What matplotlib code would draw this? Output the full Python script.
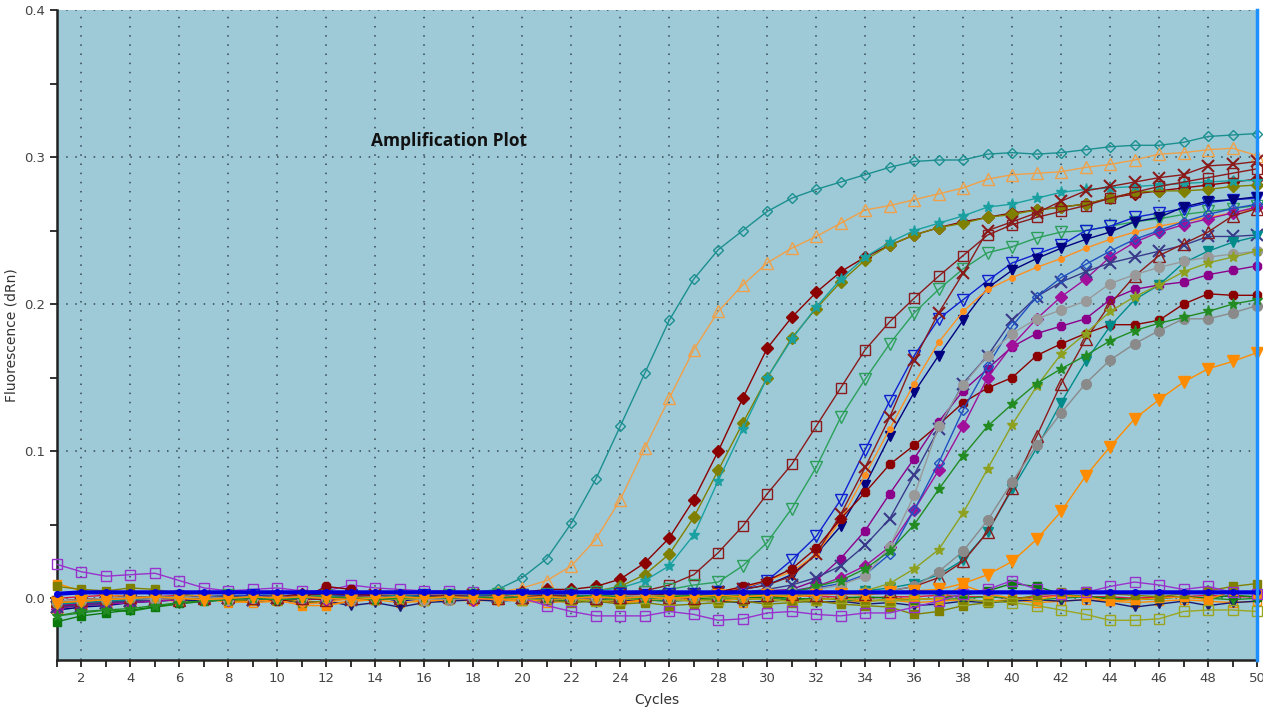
import numpy as np
import matplotlib
matplotlib.use("Agg")
from matplotlib import pyplot as plt
from matplotlib.ticker import MultipleLocator

# cycles 1..50, fluorescence in milli-dRn
cycles = list(range(1, 51))

teal_diamond = [-4,-2,-1,0,1,1,2,1,2,2,1,3,2,2,3,2,3,4,6,14, 27,51,81,117,153,189,217,237,250,263,
                272,278,283,288,293,297,298,298,302,303, 302,303,305,307,308,308,310,314,315,316]
orange_tri = [-6,-3,-2,-1,0,1,0,1,2,1,2,1,2,3,2,3,2,3,4,7, 12,22,40,67,102,136,169,195,213,228,
              238,246,255,264,267,271,275,279,285,288, 289,290,293,295,298,302,303,305,306,301]
maroon_diamond = [-5,-4,-3,-2,-1,0,0,1,2,1,3,2,3,2,1,2,1,2,3,4, 6,6,8,13,24,41,67,100,136,170,
                  191,208,222,232,240,247,252,256,259,262, 264,266,268,272,275,277,279,281,283,285]
olive_diamond = [-3,-2,-1,0,-1,0,1,0,1,2,0,1,2,1,0,1,2,1,2,3, 3,4,5,8,16,30,55,87,119,150,
                 177,197,215,230,240,247,252,255,259,261, 264,266,268,272,276,277,277,278,280,281]
teal_star = [-8,-6,-4,-3,-2,-1,0,0,1,0,1,2,1,0,1,2,1,2,2,3, 3,4,5,7,12,22,43,80,115,150,
             176,198,217,232,242,250,255,260,266,268, 272,276,278,279,280,281,282,283,284,284]
maroon_square = [-2,-1,0,1,0,1,0,1,0,1,2,1,0,1,2,1,0,1,2,2, 3,3,4,4,5,9,16,31,49,71,
                 91,117,143,169,188,204,219,233,247,254, 259,263,267,272,276,280,283,286,289,292]
green_vtri = [-3,-2,-1,0,1,0,1,2,1,0,1,2,1,0,1,1,2,2,3,2, 3,3,4,4,4,6,9,11,22,38,
              61,89,123,149,173,194,210,224,235,239, 245,249,250,253,256,258,261,263,265,267]
blue_vtri = [-4,-3,-2,-1,0,1,0,1,2,1,0,1,2,1,1,2,1,0,1,2, 2,1,2,3,2,3,3,4,6,12,
             26,42,67,101,134,165,190,203,216,228, 234,240,250,253,259,262,265,269,271,272]
navy_vtri = [-8,-6,-5,-3,-2,-1,0,-1,0,1,0,-1,0,1,-2,0,1,0,-1,1, 0,1,2,1,2,1,3,4,6,9,
             16,30,49,77,110,140,165,189,211,223, 231,238,244,249,256,259,266,270,271,273]
orange_dot = [-2,-1,0,-1,0,1,2,1,0,-2,-4,-3,0,1,-1,0,1,0,1,2, 1,2,1,2,2,3,4,5,7,12,
              18,30,53,84,115,146,174,195,210,218, 225,231,238,244,249,253,256,259,262,265]
maroon_x = [-6,-4,-3,-2,-1,0,1,0,-1,0,1,0,1,2,1,0,1,2,1,0, 1,2,1,2,3,2,3,4,6,9,
            15,30,57,89,123,162,194,221,250,256, 262,270,277,280,283,286,288,294,295,297]
darkred_circle = [-3,-2,-1,0,-1,0,1,0,1,-2,0,8,6,1,0,-1,0,1,0,1, 0,2,1,2,1,3,2,4,8,12,
                  20,34,54,72,91,104,118,133,143,150, 165,173,180,186,186,189,200,207,206,206]
magenta_a = [-5,-4,-3,-2,-1,0,-1,0,1,0,-1,0,1,0,-1,0,1,0,1,0, 1,0,1,2,1,2,3,2,4,5,
             6,12,27,46,71,95,120,141,156,171, 180,185,190,203,210,213,215,220,223,226]
magenta_b = [-7,-5,-4,-3,-2,-1,0,-1,0,1,0,-1,0,1,0,1,0,-1,0,1, 0,1,0,1,2,1,2,3,3,4,
             5,8,14,22,35,60,87,117,150,172, 190,205,217,232,242,249,254,258,262,266]
slate_x = [-6,-5,-3,-2,-1,0,1,0,-1,0,1,0,-1,0,1,0,1,0,1,0, 1,2,1,0,1,2,3,2,4,6,
           9,14,22,36,54,84,115,146,165,189, 205,215,222,228,232,236,240,246,246,247]
blue_diamond = [-3,-2,-1,0,1,0,1,2,1,0,1,0,-1,0,1,0,1,2,1,0, 1,0,1,2,1,2,1,3,2,4,
                5,7,10,16,30,60,92,128,158,185, 205,218,227,236,244,250,256,261,265,268]
teal_vtri = [-4,-3,-2,-1,0,1,0,1,0,-1,0,1,0,1,2,1,0,1,0,1, 0,1,2,1,0,1,2,1,2,3,
             2,3,4,5,7,10,16,26,45,74, 102,133,161,185,203,213,228,236,242,246]
maroon_tri = [-2,-1,0,1,0,-1,0,1,0,1,0,-1,0,1,0,1,2,1,0,1, 2,1,0,1,2,1,0,2,1,2,
              3,2,4,3,5,8,14,25,45,75, 110,146,176,200,219,233,241,249,260,265]
grey_a = [-3,-2,-1,0,-1,0,1,0,1,0,1,0,-1,0,1,0,-1,0,1,0, 1,0,1,2,1,0,1,2,1,2,
          3,2,3,4,5,8,18,32,53,79, 104,126,146,162,173,182,190,190,194,199]
grey_b = [-2,-1,0,1,0,1,0,-1,0,1,0,1,0,1,0,-1,0,1,0,1, 0,1,0,1,2,1,2,1,3,4,
          4,6,9,15,35,70,117,145,165,180, 190,196,202,214,220,225,229,232,234,236]
lime_star = [-3,-2,-1,0,1,0,-1,0,1,0,1,0,1,0,-1,0,1,0,1,0, 1,0,1,0,1,2,1,0,1,2,
             2,3,3,5,10,20,33,58,88,118, 144,166,180,195,205,213,222,228,232,236]
green_star = [-12,-9,-8,-7,-5,-3,-2,-1,0,-1,0,1,0,-1,0,1,0,1,0,1, 0,1,2,1,0,1,2,1,2,3,
              4,8,12,20,32,50,74,97,117,132, 146,156,165,175,182,187,191,195,200,203]
orange_vtri = [-3,-2,-1,0,1,0,-1,0,1,0,1,0,-1,0,1,0,1,0,-1,0, 1,0,1,0,1,0,1,2,1,2,
               1,2,3,2,4,5,6,10,16,25, 40,59,83,103,122,135,147,156,161,167]

# no-amplification wells
purple_square = [23,18,15,16,17,12,7,5,6,7,5,5,9,7,6,5,5,4,3,0, -5,-9,-12,-12,-12,-9,-11,-15,-14,-10,
                 -9,-11,-12,-10,-10,-6,-2,3,6,12, 6,3,4,8,11,9,6,8,4,3]
olive_open_sq = [-2,-1,0,1,0,-1,0,1,0,-1,0,-1,0,1,0,-1,0,1,0,-1, 0,-1,-2,-1,0,-1,-2,-1,0,-1,
                 -2,-1,0,-1,-2,-1,0,-1,-2,-3, -5,-8,-11,-15,-15,-14,-9,-8,-8,-9]
olive_square = [8,6,5,7,6,3,1,-2,-1,0,-3,-2,0,1,0,-1,0,1,2,0, -1,-3,-2,-4,-3,-5,-4,-3,-2,-4,
                -3,-2,-4,-5,-6,-11,-9,-5,-3,-1, 2,4,5,3,2,1,3,5,8,10]
orange_square = [10,5,2,1,0,-1,0,-3,-2,-1,-5,-5,-2,-1,0,-2,-1,0,-1,-2, -1,0,-2,-3,-1,0,-1,-2,0,-1,
                 -2,-1,0,-2,-1,0,-1,9,3,0, -1,2,1,-2,-1,0,1,-1,5,3]
dkgreen_square = [-16,-12,-10,-8,-6,-3,-2,-1,0,-1,0,1,0,-1,0,1,0,1,2,1, 0,1,0,-1,0,1,0,-1,0,1,
                  0,-1,0,1,0,-1,0,2,5,10, 8,3,1,0,-1,0,1,0,2,1]
green_vtri_flat = [-12,-10,-8,-9,-6,-4,-2,-1,0,-1,0,-1,0,1,0,-1,0,1,0,-1, 0,-2,-1,0,-1,-2,-1,0,-1,0,
                   -1,0,-1,-2,-1,0,-1,0,1,0, -1,0,1,0,-1,0,1,0,-1,0]
navy_vtri_flat = [-2,-3,-2,-1,0,-1,-2,-1,-2,-1,-3,-2,-5,-3,-6,-3,-2,-1,-2,-1, -2,-1,-3,-2,-1,-2,-1,-2,-3,-2,
                  -1,-3,-2,-4,-3,-5,-4,-2,-3,-2, -1,-2,-1,-3,-6,-4,-2,-5,-3,-2]
red_line = [0,1,2,1,1,2,1,1,2,1,1,0,1,2,1,1,0,1,1,2, 1,1,0,1,1,2,1,0,1,1, 2,1,1,0,1,1,2,1,1,0, 1,2,1,1,0,1,1,2,1,1]
orange_open_sq = [-6,-4,-3,-2,-1,-2,-1,-2,-3,-2,-1,-4,-2,-1,-3,-2,-1,-2,-1,-2, -3,-2,-1,-3,-2,-1,-2,-1,-3,-2,
                  -1,-2,-3,-2,-1,-3,-2,-1,-2,-1, -3,-2,-1,-2,-3,-2,-1,-2,-3,-2]
blue_thick = [3,4,4,4,4,4,4,4,4,4,4,4,4,4,4,4,4,4,4,4, 4,4,4,4,4,4,4,4,4,4, 4,4,4,4,4,4,4,4,4,4, 4,4,4,4,4,4,4,4,4,4]

x_ticks = list(range(2, 51, 2))
y_ticks = [0.0, 0.1, 0.2, 0.3, 0.4]

fig = plt.figure(figsize=(12.63, 7.13), dpi=100)
ax = fig.add_axes([57/1263, 1 - 660/713, 1200/1263, 650/713])
ax.set_facecolor('#9ecad8')

# grid, dotted
for x in x_ticks[:-1]:
    ax.axvline(x, color='#34464e', lw=1.1, ls=(0, (1, 5)), zorder=1)
for y in y_ticks:
    ax.axhline(y, color='#34464e', lw=1.1, ls=(0, (1, 5)), zorder=1)

def curve(vals, color, marker, ms=6, filled=True, lw=1.0, mew=1.0, z=3):
    ax.plot(cycles, np.array(vals) / 1000.0, color=color, lw=lw, marker=marker, ms=ms,
            mfc=color if filled else 'none', mec=color, mew=mew, zorder=z, clip_on=False)

# flat wells first
curve(orange_open_sq, '#ff8c00', 's', 6, False)
curve(red_line, '#dc143c', None)
curve(navy_vtri_flat, '#191970', 'v', 6)
curve(green_vtri_flat, '#228b22', 'v', 6)
curve(dkgreen_square, '#0b7a0b', 's', 6)
curve(orange_square, '#ff8c00', 's', 6)
curve(olive_square, '#808000', 's', 6)
curve(olive_open_sq, '#9aa620', 's', 7, False)
curve(purple_square, '#9932cc', 's', 7, False)

# amplified wells
curve(teal_diamond, '#1b8f8f', 'D', 5, False)
curve(orange_tri, '#f0a048', '^', 8, False)
curve(maroon_diamond, '#8b0000', 'D', 6)
curve(olive_diamond, '#808000', 'D', 6)
curve(teal_star, '#1aa0a0', '*', 8)
curve(maroon_square, '#8b1a1a', 's', 7, False)
curve(green_vtri, '#2ca05a', 'v', 8, False)
curve(blue_vtri, '#1020d0', 'v', 8, False)
curve(navy_vtri, '#000080', 'v', 7)
curve(orange_dot, '#ff9020', 'o', 4)
curve(maroon_x, '#8b1a1a', 'x', 8, mew=1.5)
curve(darkred_circle, '#8b0000', '8', 7)
curve(magenta_a, '#8b008b', '8', 7)
curve(magenta_b, '#a0109a', 'D', 6)
curve(slate_x, '#3a3a8b', 'x', 8, mew=1.5)
curve(blue_diamond, '#2050c0', 'D', 5, False)
curve(teal_vtri, '#008b8b', 'v', 7)
curve(maroon_tri, '#8b1a1a', '^', 8, False)
curve(grey_a, '#8a8a8a', 'o', 7)
curve(grey_b, '#999999', 'o', 7)
curve(lime_star, '#8ea020', '*', 8)
curve(green_star, '#228b22', '*', 8)
curve(orange_vtri, '#ff8c00', 'v', 8)

# thick blue baseline on top
curve(blue_thick, '#0000dd', 'o', 4, lw=3.0, z=4)

ax.axvline(50, color='#1e8fff', lw=2.5, zorder=5, clip_on=False)

ax.set_xlim(1, 50)
ax.set_ylim(-0.042, 0.4)
ax.set_xticks(x_ticks)
ax.xaxis.set_minor_locator(MultipleLocator(1))
ax.set_yticks(y_ticks)
ax.set_yticklabels(['0.0', '0.1', '0.2', '0.3', '0.4'])
ax.yaxis.set_minor_locator(MultipleLocator(0.05))
ax.tick_params(which='both', direction='out', color='#222222', width=1.3, labelsize=9.5,
               labelcolor='#444444')
ax.tick_params(which='major', length=5)
ax.tick_params(which='minor', length=5)

for s in ['top', 'right']:
    ax.spines[s].set_visible(False)
for s in ['left', 'bottom']:
    ax.spines[s].set_color('#222222')
    ax.spines[s].set_linewidth(1.8)

ax.set_xlabel('Cycles', fontsize=10, color='#333333', labelpad=6)
ax.set_ylabel('Fluorescence (dRn)', fontsize=10, color='#333333', labelpad=4)

ax.text(17, 0.311, 'Amplification Plot', fontsize=12.5, fontweight='bold',
        family='Open Sans', color='#111111', ha='center', va='center', zorder=6)

fig.savefig('out.png', dpi=100)
